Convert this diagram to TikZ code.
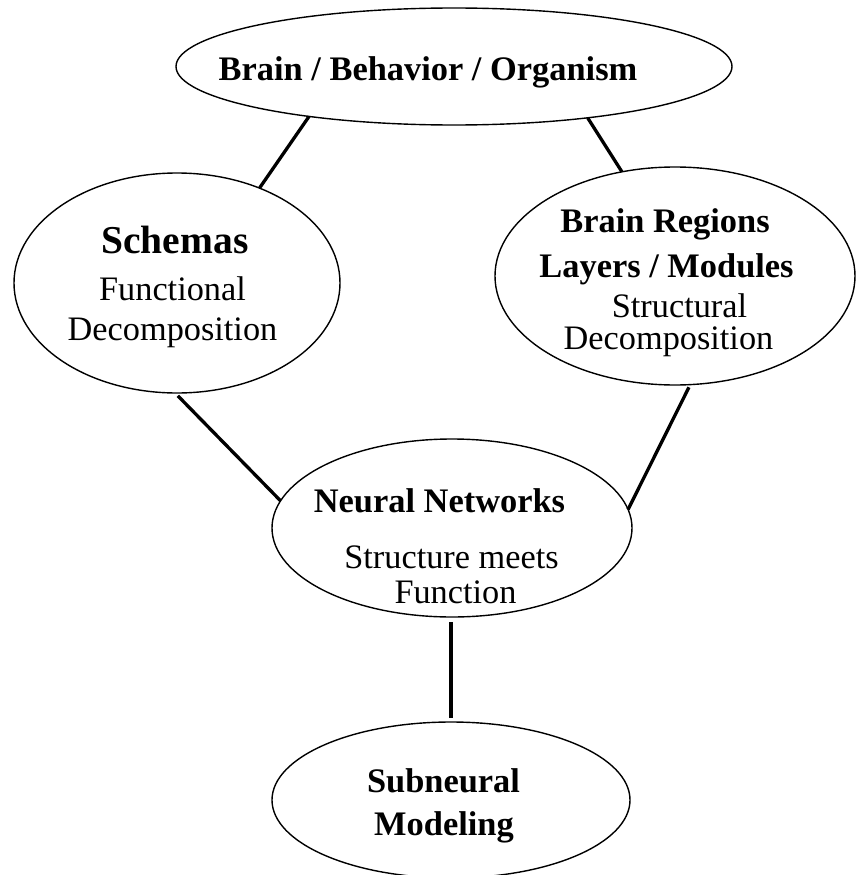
\documentclass[tikz,border=0pt]{standalone}
\usepackage{fontspec}
\setmainfont{Liberation Serif}
\usetikzlibrary{shapes.geometric}
\begin{document}
\begin{tikzpicture}[x=1pt,y=-1pt,
  oval/.style={draw,ellipse,line width=1.4pt,inner sep=0pt,outer sep=0pt},
  link/.style={line width=3.3pt},
  btxt/.style={anchor=base,inner sep=0pt,font=\fontsize{34.4}{40}\selectfont\bfseries},
  rtxt/.style={anchor=base,inner sep=0pt,font=\fontsize{34.3}{40}\selectfont},
  stxt/.style={anchor=base,inner sep=0pt,font=\fontsize{39.5}{46}\selectfont\bfseries}]
\useasboundingbox (0,0) rectangle (855,875);
% ellipses
\node[oval,minimum width=556pt,minimum height=117pt] (top) at (454,66.5) {};
\node[oval,minimum width=326pt,minimum height=220pt] (sch) at (177,283) {};
\node[oval,minimum width=360pt,minimum height=218pt] (reg) at (675,276) {};
\node[oval,minimum width=360pt,minimum height=178pt] (nn) at (452,528) {};
\node[oval,minimum width=358pt,minimum height=156pt] (sub) at (451,800) {};
% texts
\node[btxt] (t1) at (428,80.5) {Brain / Behavior / Organism};
\node[stxt] (s1) at (175,253) {Schemas};
\node[rtxt] (s2) at (172.5,300) {Functional};
\node[rtxt] (s3) at (172.5,340) {Decomposition};
\node[btxt] (r1) at (665,232) {Brain Regions};
\node[btxt] (r2) at (666.5,277) {Layers / Modules};
\node[rtxt] (r3) at (679.5,317) {Structural};
\node[rtxt] (r4) at (668.5,349) {Decomposition};
\node[btxt] (n1) at (439.5,512) {Neural Networks};
\node[rtxt] (n2) at (451.5,568) {Structure meets};
\node[rtxt] (n3) at (455.5,603) {Function};
\node[btxt] (u1) at (443.5,792) {Subneural};
\node[btxt] (u2) at (444,835) {Modeling};
% connectors
\draw[link] (top.199) -- (sch.49);
\draw[link] (top.-21) -- (reg.117);
\draw[link,shorten <=4pt] (sch.-91.5) -- (nn.171.7);
\draw[link,shorten <=3pt] (reg.-82) -- (nn.6);
\draw[link,shorten <=5pt,shorten >=4pt] (sub.north |- nn.south) -- (sub.north);
\end{tikzpicture}
\end{document}
